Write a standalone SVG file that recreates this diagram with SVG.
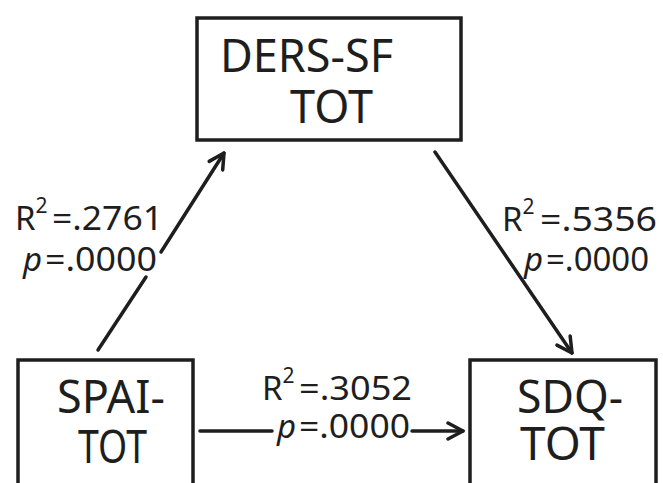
<svg xmlns="http://www.w3.org/2000/svg" width="663" height="483" viewBox="0 0 663 483">
  <style>
    .box { fill: #ffffff; stroke: #1e1e1e; stroke-width: 3.5; }
    .name { font-family: "Noto Sans", "Open Sans", sans-serif; font-size: 46px; fill: #1e1e1e; }
    .stat { font-family: "Noto Sans", "Open Sans", sans-serif; font-size: 33px; fill: #1e1e1e; }
    .sup { font-size: 21px; }
    .it { font-style: italic; }
    .edge { stroke: #1e1e1e; stroke-width: 3.5; fill: none; stroke-linecap: round; }
  </style>
  <defs>
    <marker id="head" markerUnits="userSpaceOnUse" viewBox="0 0 20 20" refX="18" refY="10" markerWidth="20" markerHeight="20" orient="auto">
      <path d="M3,2 L18,10 L3,18" fill="none" stroke="#1e1e1e" stroke-width="3.5" stroke-linecap="round" stroke-linejoin="round"/>
    </marker>
  </defs>
  <rect width="663" height="483" fill="#ffffff"/>

  <g id="ders">
    <rect class="box" x="197" y="18" width="264" height="122"/>
    <text class="name" x="220" y="72" textLength="173" lengthAdjust="spacingAndGlyphs">DERS-SF</text>
    <text class="name" x="290" y="123" textLength="83" lengthAdjust="spacingAndGlyphs">TOT</text>
  </g>

  <g id="spai">
    <rect class="box" x="18" y="360" width="175" height="140"/>
    <text class="name" x="57" y="413" textLength="108" lengthAdjust="spacingAndGlyphs">SPAI-</text>
    <text class="name" x="78" y="463" textLength="69" lengthAdjust="spacingAndGlyphs">TOT</text>
  </g>

  <g id="sdq">
    <rect class="box" x="470" y="360" width="186" height="140"/>
    <text class="name" x="517" y="413" textLength="106" lengthAdjust="spacingAndGlyphs">SDQ-</text>
    <text class="name" x="520" y="460" textLength="85" lengthAdjust="spacingAndGlyphs">TOT</text>
  </g>

  <g id="connectors">
    <line class="edge" x1="98" y1="350" x2="146" y2="277"/>
    <line class="edge" x1="161" y1="252" x2="224" y2="153" marker-end="url(#head)"/>
    <line class="edge" x1="435" y1="152" x2="572" y2="353" marker-end="url(#head)"/>
    <line class="edge" x1="200" y1="431" x2="272" y2="431"/>
    <line class="edge" x1="412" y1="431" x2="463" y2="431" marker-end="url(#head)"/>
  </g>

  <g id="labels">
    <text class="stat" x="15" y="230">R<tspan class="sup" y="213">2</tspan><tspan x="52" y="230" textLength="111" lengthAdjust="spacingAndGlyphs">=.2761</tspan></text>
    <text class="stat" x="23" y="271"><tspan class="it">p</tspan><tspan x="45" textLength="112" lengthAdjust="spacingAndGlyphs">=.0000</tspan></text>
    <text class="stat" x="502" y="231">R<tspan class="sup" y="214">2</tspan><tspan x="540" y="231" textLength="117" lengthAdjust="spacingAndGlyphs">=.5356</tspan></text>
    <text class="stat" x="524" y="271"><tspan class="it">p</tspan><tspan x="546" textLength="103" lengthAdjust="spacingAndGlyphs">=.0000</tspan></text>
    <text class="stat" x="262" y="400">R<tspan class="sup" y="383">2</tspan><tspan x="299" y="400" textLength="113" lengthAdjust="spacingAndGlyphs">=.3052</tspan></text>
    <text class="stat" x="277" y="438"><tspan class="it">p</tspan><tspan x="299" textLength="111" lengthAdjust="spacingAndGlyphs">=.0000</tspan></text>
  </g>
</svg>
